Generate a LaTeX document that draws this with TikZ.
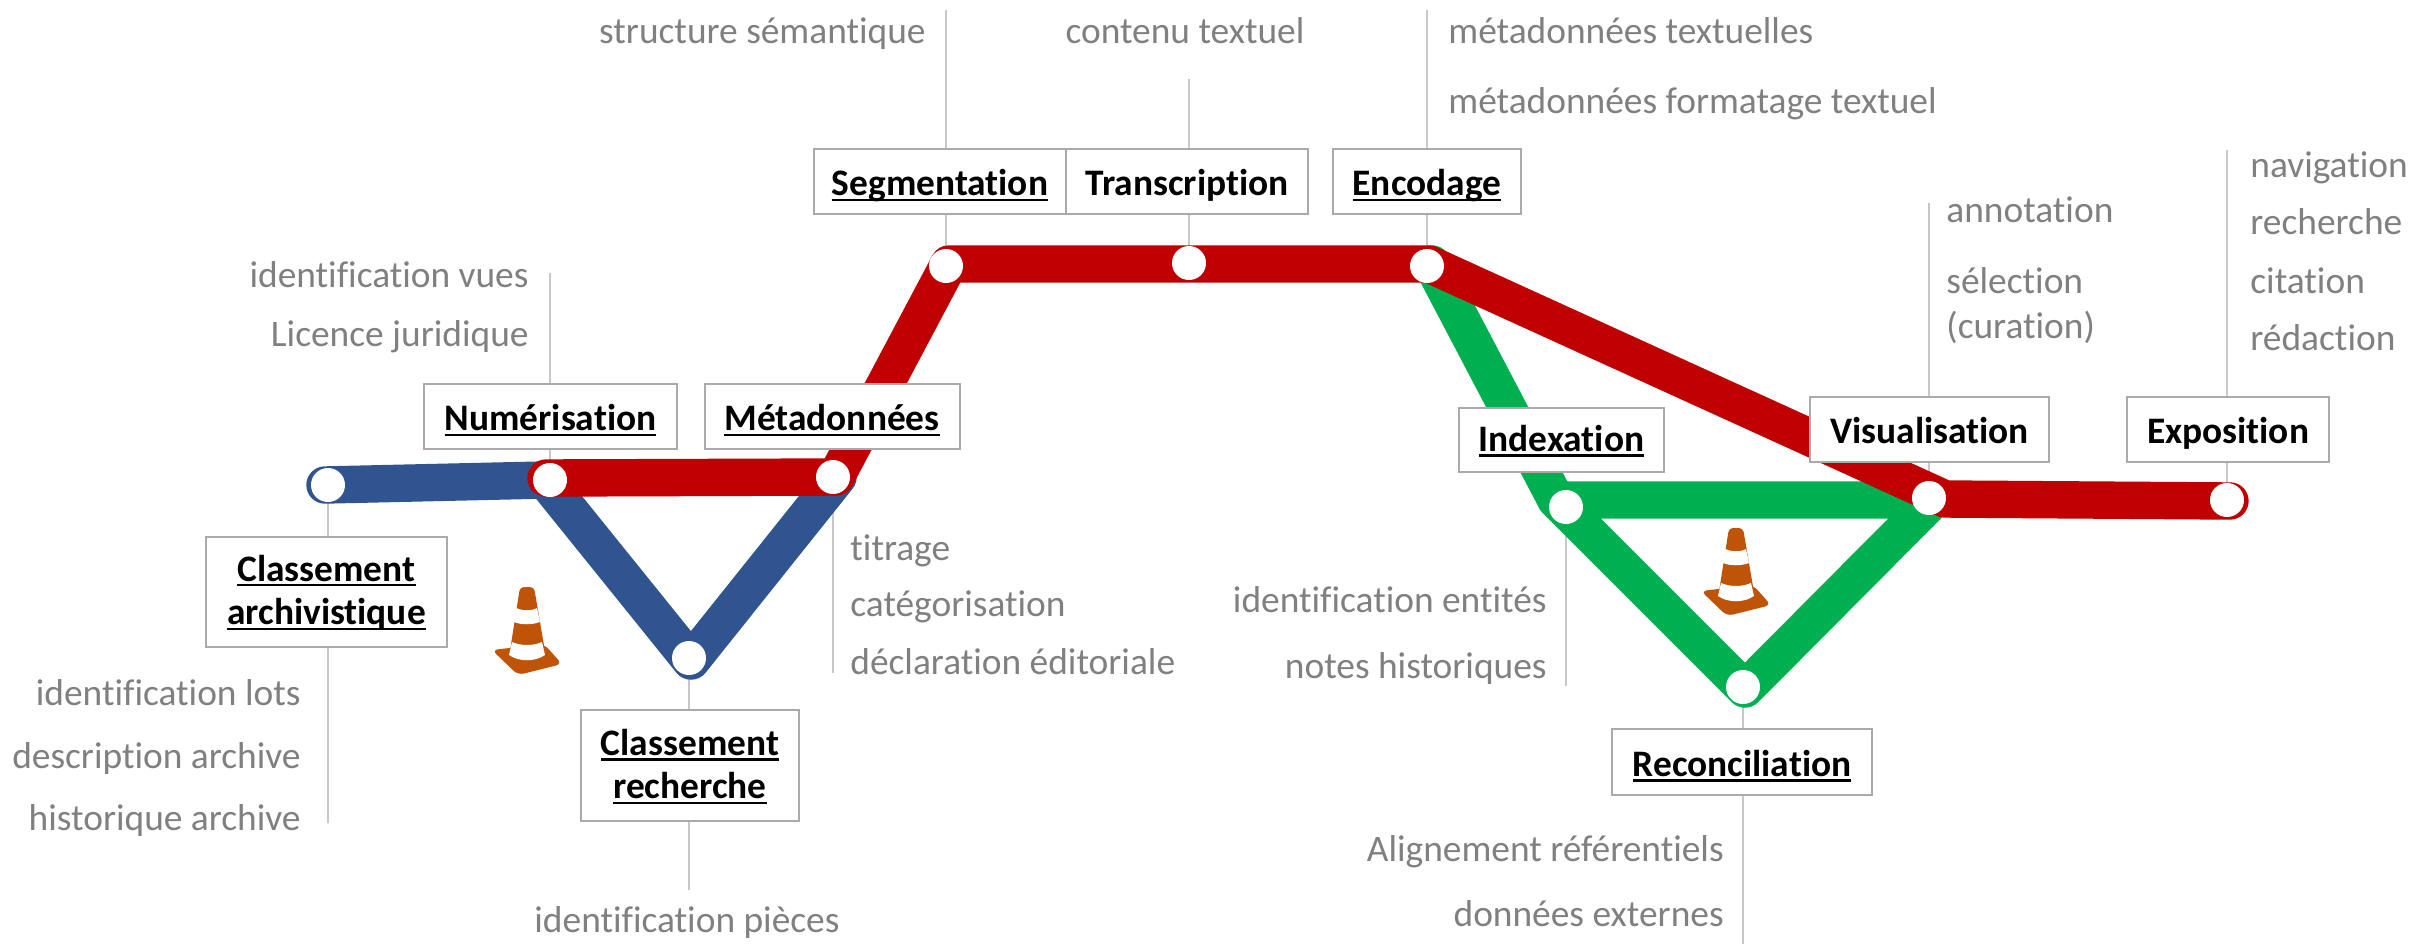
\documentclass[tikz,border=0pt]{standalone}
\usepackage{fontspec}
\setmainfont{Carlito}[Ligatures=CommonOff]
\usetikzlibrary{backgrounds}
\definecolor{bandblue}{RGB}{47,84,143}
\definecolor{bandred}{RGB}{192,0,0}
\definecolor{bandgreen}{RGB}{0,176,80}
\definecolor{conegold}{RGB}{191,84,8}
\definecolor{txtgray}{RGB}{128,128,128}
\definecolor{boxgray}{RGB}{170,170,170}
\definecolor{conngray}{RGB}{200,200,200}
\newcommand{\lbx}[1]{\raisebox{-2.2pt}[\height][\depth]{\vphantom{g}#1}}
\newcommand{\ulbl}[1]{\lbx{\setbox0=\hbox{#1}\rlap{\rule[-0.14em]{\wd0}{0.065em}}\box0}}
\newcommand{\ulbu}[1]{\raisebox{-0.8pt}[\height][\depth]{\vphantom{g}\setbox0=\hbox{#1}\rlap{\rule[-0.14em]{\wd0}{0.065em}}\box0}}
\tikzset{
  stn/.style={circle,fill=white,inner sep=0pt,minimum size=17pt},
  labelbox/.style={draw=boxgray,line width=1pt,fill=white,inner sep=0pt,align=center,
    font=\fontsize{18.7}{21.8}\selectfont\bfseries,text=black},
  grayr/.style={anchor=mid east,inner sep=0pt,text=txtgray,font=\fontsize{18.7}{22}\selectfont},
  grayl/.style={anchor=mid west,inner sep=0pt,text=txtgray,font=\fontsize{18.7}{22}\selectfont},
  grayc/.style={anchor=mid,inner sep=0pt,text=txtgray,font=\fontsize{18.7}{22}\selectfont},
  conn/.style={draw=conngray,line width=1pt},
  band/.style={line width=18.7pt,line cap=round,line join=round},
  cone/.pic={
    \fill[conegold,rounded corners=3pt] (-35,63) -- (-9,88) -- (35,77) -- (17,57) -- cycle;
    \fill[conegold,rounded corners=2pt] (-7,0) -- (7,0) -- (19,70) .. controls (8,78) and (-8,78) .. (-18,70) -- cycle;
    \fill[white] (-10.5,21) .. controls (-5,24) and (5,24) .. (10,21) -- (13,35) .. controls (5,38) and (-6,38) .. (-13,35) -- cycle;
    \fill[white] (-15,55) .. controls (-6,59) and (6,59) .. (15,55) -- (18,68) .. controls (8,75) and (-8,75) .. (-18,68) -- cycle;
  }
}
\begin{document}
\begin{tikzpicture}[x=0.5pt,y=-0.5pt]
\useasboundingbox (0,0) rectangle (2433,944);
% stations
\node[stn] (sA) at (328,485) {};
\node[stn] (sN) at (550,480) {};
\node[stn] (sM) at (833,477) {};
\node[stn] (sC) at (689,658) {};
\node[stn] (sS) at (946,266) {};
\node[stn] (sT) at (1189,263) {};
\node[stn] (sE) at (1427,266) {};
\node[stn] (sI) at (1566,507) {};
\node[stn] (sV) at (1929,498) {};
\node[stn] (sX) at (2227,500) {};
\node[stn] (sR) at (1743,687) {};
% free ends of connectors
\coordinate (eS) at (946,10);
\coordinate (eT) at (1189,79);
\coordinate (eE) at (1427,10);
\coordinate (eN) at (550,273);
\coordinate (eM) at (833,673);
\coordinate (eA) at (328,823);
\coordinate (eC) at (689,890);
\coordinate (eI) at (1566,686);
\coordinate (eV) at (1929,203);
\coordinate (eX) at (2227,150);
\coordinate (eR) at (1743,944);
% line waypoints
\coordinate (pA) at (325,485);
\coordinate (pN) at (545,480);
\coordinate (pC) at (691,661);
\coordinate (pM) at (838,477);
\coordinate (qN) at (546,478);
\coordinate (qM) at (836,477);
\coordinate (qS) at (949,264);
\coordinate (qE) at (1429,264);
\coordinate (qV) at (1945,499);
\coordinate (qX) at (2230,501);
\coordinate (gE) at (1432,264);
\coordinate (gI) at (1556,500);
\coordinate (gR) at (1745,689);
\coordinate (gV) at (1933,500);
% boxes
\node[labelbox,minimum width=126pt,minimum height=32.5pt] (bS) at (940,181.5) {\ulbl{Segmentation}};
\node[labelbox,minimum width=121pt,minimum height=32.5pt] (bT) at (1187,181.5) {\lbx{Transcription}};
\node[labelbox,minimum width=94pt,minimum height=32.5pt] (bE) at (1427,181.5) {\ulbl{Encodage}};
\node[labelbox,minimum width=126.5pt,minimum height=32.5pt] (bN) at (550.5,416.5) {\ulbl{Numérisation}};
\node[labelbox,minimum width=127.5pt,minimum height=32.5pt] (bM) at (832,416.5) {\ulbl{Métadonnées}};
\node[labelbox,minimum width=120.5pt,minimum height=55pt] (bA) at (326.5,591.5) {\ulbu{Classement}\\\ulbu{archivistique}};
\node[labelbox,minimum width=109pt,minimum height=55.5pt] (bC) at (690,765.5) {\ulbu{Classement}\\\ulbu{recherche}};
\node[labelbox,minimum width=102.5pt,minimum height=32pt] (bI) at (1561.5,440) {\ulbu{Indexation}};
\node[labelbox,minimum width=119.5pt,minimum height=32.5pt] (bV) at (1929.5,429.5) {\lbx{Visualisation}};
\node[labelbox,minimum width=101pt,minimum height=32.5pt] (bX) at (2228,429.5) {\lbx{Exposition}};
\node[labelbox,minimum width=130pt,minimum height=33pt] (bR) at (1742,762) {\ulbl{Reconciliation}};
% gray labels
\node[grayr] (t1) at (926,39) {structure sémantique};
\node[grayc] (t2) at (1185,39) {contenu textuel};
\node[grayl] (t3) at (1448,39) {métadonnées textuelles};
\node[grayl] (t4) at (1448,109) {métadonnées formatage textuel};
\node[grayl] (t5) at (2250,173) {navigation};
\node[grayl] (t6) at (2250,230) {recherche};
\node[grayl] (t7) at (2250,289) {citation};
\node[grayl] (t8) at (2250,346) {rédaction};
\node[grayl] (t9) at (1946,218) {annotation};
\node[grayl] (t10) at (1946,289) {sélection};
\node[grayl] (t11) at (1946,334) {(curation)};
\node[grayr] (t12) at (529,283) {identification vues};
\node[grayr] (t13) at (529,342) {Licence juridique};
\node[grayl] (t14) at (850,556) {titrage};
\node[grayl] (t15) at (850,612) {catégorisation};
\node[grayl] (t16) at (850,670) {déclaration éditoriale};
\node[grayr] (t17) at (1547,608) {identification entités};
\node[grayr] (t18) at (1547,674) {notes historiques};
\node[grayr] (t19) at (301,701) {identification lots};
\node[grayr] (t20) at (301,764) {description archive};
\node[grayr] (t21) at (301,826) {historique archive};
\node[grayc] (t22) at (687,928) {identification pièces};
\node[grayr] (t23) at (1724,857) {Alignement référentiels};
\node[grayr] (t24) at (1724,922) {données externes};
% cones
\pic at (527,587) {cone};
\pic at (1736,528) {cone};
\begin{scope}[on background layer]
  \fill[white] (0,0) rectangle (2433,944);
  \draw[conn] (sS.center) -- (eS);
  \draw[conn] (sT.center) -- (eT);
  \draw[conn] (sE.center) -- (eE);
  \draw[conn] (sN.center) -- (eN);
  \draw[conn] (sM.center) -- (eM);
  \draw[conn] (sA.center) -- (eA);
  \draw[conn] (sC.center) -- (eC);
  \draw[conn] (sI.center) -- (eI);
  \draw[conn] (sV.center) -- (eV);
  \draw[conn] (sX.center) -- (eX);
  \draw[conn] (sR.center) -- (eR);
  \draw[band,bandblue] (pA) -- (pN) -- (pC) -- (pM);
  \draw[band,bandgreen] (gE) -- (gI) -- (gR) -- (gV) -- (gI);
  \draw[band,bandred] (qN) -- (qM) -- (qS) -- (qE) -- (qV) -- (qX);
\end{scope}
\end{tikzpicture}
\end{document}
